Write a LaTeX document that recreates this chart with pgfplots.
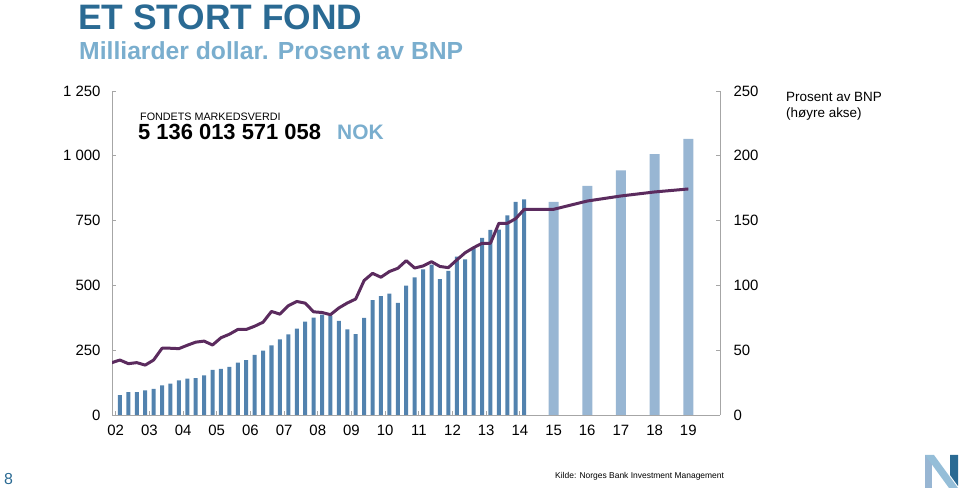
\documentclass[border=0pt]{standalone}
\usepackage{pgfplots}
\pgfplotsset{compat=1.18}
\usepackage{fontspec}
\setmainfont{Liberation Sans}

\definecolor{titleblue}{HTML}{2A6A93}
\definecolor{subblue}{HTML}{7AAECE}
\definecolor{barq}{HTML}{5282AE}
\definecolor{bara}{HTML}{98B6D3}
\definecolor{bnpline}{HTML}{5B2B5E}
\definecolor{axisgray}{HTML}{A6A6A6}

% market value, bn USD, quarterly 2002Q1-2014Q1
\pgfplotstableread{
x        y
2002.125 77
2002.375 88
2002.625 88
2002.875 95
2003.125 101
2003.375 114
2003.625 121
2003.875 134
2004.125 140
2004.375 142
2004.625 153
2004.875 174
2005.125 178
2005.375 186
2005.625 202
2005.875 212
2006.125 232
2006.375 248
2006.625 269
2006.875 292
2007.125 311
2007.375 333
2007.625 360
2007.875 376
2008.125 387
2008.375 383
2008.625 363
2008.875 330
2009.125 312
2009.375 375
2009.625 443
2009.875 459
2010.125 468
2010.375 433
2010.625 499
2010.875 531
2011.125 562
2011.375 580
2011.625 524
2011.875 556
2012.125 611
2012.375 600
2012.625 643
2012.875 683
2013.125 714
2013.375 715
2013.625 770
2013.875 822
2014.125 832
}\quarterly

% projections, annual
\pgfplotstableread{
x    y
2015 822
2016 884
2017 944
2018 1006
2019 1065
}\annual

% percent of GDP (right axis)
\pgfplotstableread{
x        y
2001.875 40.3
2002.125 42.4
2002.375 39.6
2002.625 40.4
2002.875 38.5
2003.125 42.4
2003.375 51.5
2003.625 51.5
2003.875 51.2
2004.125 53.8
2004.375 56.2
2004.625 57.0
2004.875 54.0
2005.125 59.6
2005.375 62.3
2005.625 66.0
2005.875 66.0
2006.125 68.5
2006.375 71.6
2006.625 79.9
2006.875 77.8
2007.125 84.3
2007.375 87.6
2007.625 86.3
2007.875 79.6
2008.125 79.1
2008.375 77.4
2008.625 82.6
2008.875 86.4
2009.125 89.5
2009.375 103.8
2009.625 109.3
2009.875 106.3
2010.125 110.7
2010.375 113.2
2010.625 119.1
2010.875 113.4
2011.125 115.0
2011.375 118.3
2011.625 114.6
2011.875 113.7
2012.125 119.6
2012.375 125.2
2012.625 129.1
2012.875 132.5
2013.125 132.5
2013.375 147.9
2013.625 147.9
2013.875 151.5
2014.125 158.6
2015     158.7
2016     165.1
2017     169.0
2018     172.1
2019     174.4
}\bnp

\pgfplotsset{
  nbstyle/.style={
    at={(112bp,73bp)}, anchor=south west,
    scale only axis, width=608bp, height=324bp,
    xmin=2001.89, xmax=2019.94,
    axis line style={draw=axisgray, line width=0.8bp},
    every tick/.style={draw=axisgray, line width=0.8bp},
    tick align=inside, major tick length=4bp,
    tick label style={font=\fontsize{15}{15}\selectfont},
  }
}

\begin{document}
\begin{tikzpicture}[x=1bp,y=1bp]
\useasboundingbox (0,0) rectangle (959,488);

\begin{axis}[nbstyle,
    ymin=0, ymax=1250,
    axis x line*=bottom, axis y line*=left,
    xtick={2002,...,2019},
    xticklabels={02,03,04,05,06,07,08,09,10,11,12,13,14,15,16,17,18,19},
    xticklabel style={yshift=-7bp},
    ytick={0,250,500,750,1000,1250},
    yticklabels={0,250,500,750,1 000,1 250},
    yticklabel style={xshift=-8bp},
  ]
  \addplot[ybar, bar width=4bp, bar shift=0pt, fill=barq, draw=none] table {\quarterly};
  \addplot[ybar, bar width=10bp, bar shift=0pt, fill=bara, draw=none] table {\annual};
\end{axis}

\begin{axis}[nbstyle,
    ymin=0, ymax=250,
    axis x line=none, axis y line*=right,
    ytick={0,50,100,150,200,250},
    yticklabels={0,50,100,150,200,250},
    yticklabel style={xshift=10bp},
  ]
  \addplot[bnpline, line width=3bp, line join=round, mark=none] table {\bnp};
\end{axis}

% titles and notes
\node[anchor=base west, inner sep=0, text=titleblue,
  font=\fontsize{35.5}{36}\selectfont\bfseries] at (78,458.5) {ET STORT FOND};
\node[anchor=base west, inner sep=0, text=subblue,
  font=\fontsize{24.8}{25}\selectfont\bfseries] at (79,428) {Milliarder dollar. Prosent av BNP};
\node[anchor=base west, inner sep=0,
  font=\fontsize{10.8}{11}\selectfont] at (140,367.3) {FONDETS MARKEDSVERDI};
\node[anchor=base west, inner sep=0,
  font=\fontsize{22}{22}\selectfont\bfseries] at (138,348) {5 136 013 571 058};
\node[anchor=base west, inner sep=0, text=subblue,
  font=\fontsize{21}{21}\selectfont\bfseries] at (337,348) {NOK};
\node[anchor=base west, inner sep=0, font=\fontsize{13.5}{14}\selectfont] at (786,386) {Prosent av BNP};
\node[anchor=base west, inner sep=0, font=\fontsize{13.5}{14}\selectfont] at (786,370.5) {(høyre akse)};
\node[anchor=base west, inner sep=0, font=\fontsize{8.5}{9}\selectfont] at (555,9) {Kilde: Norges Bank Investment Management};
\node[anchor=base west, inner sep=0, text=titleblue, font=\fontsize{16}{16}\selectfont] at (4,3) {8};

% logo
\fill[bara] (925,33) -- (932,33) -- (932,0) -- (925,0) -- cycle;
\fill[subblue!80!white] (925,33) -- (934,33) -- (958,0) -- (949,0) -- cycle;
\fill[titleblue] (950,33) -- (958,33) -- (958,2) -- (950,13) -- cycle;
\end{tikzpicture}
\end{document}
